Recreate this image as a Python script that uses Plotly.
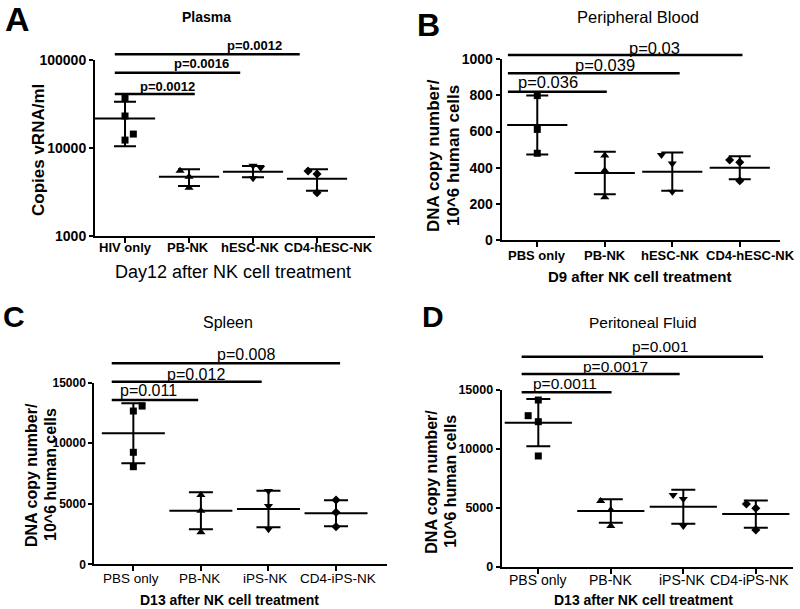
import plotly.graph_objects as go

W, H = 800, 609

# ---------------- data ----------------
# Panel A (Plasma, log scale)
a_cats = ["HIV only", "PB-NK", "hESC-NK", "CD4-hESC-NK"]
a_points = [[37000, 23100, 12300, 14400], [5520, 4720, 3540], [6300, 5970, 4530], [5480, 5070, 3100]]
a_mean = [21700, 4720, 5380, 4480]
a_upper = [33600, 5730, 6240, 5730]
a_lower = [10500, 3700, 4650, 3270]
a_pvals = ["p=0.0012", "p=0.0016", "p=0.0012"]
a_yticks = [1000, 10000, 100000]

# Panel B (Peripheral Blood)
b_cats = ["PBS only", "PB-NK", "hESC-NK", "CD4-hESC-NK"]
b_points = [[799, 612, 480], [467, 384, 236], [470, 424, 267], [443, 430, 328]]
b_mean = [636, 371, 378, 400]
b_sd = [163, 118, 106, 64]
b_pvals = ["p=0.036", "p=0.039", "p=0.03"]
b_yticks = [0, 200, 400, 600, 800, 1000]

# Panel C (Spleen)
c_cats = ["PBS only", "PB-NK", "iPS-NK", "CD4-iPS-NK"]
c_points = [[12660, 13070, 9250, 8060], [5720, 4430, 2640], [6050, 4810, 2890], [5310, 4290, 3110]]
c_mean = [10820, 4430, 4570, 4210]
c_sd = [2475, 1530, 1515, 1075]
c_pvals = ["p=0.011", "p=0.012", "p=0.008"]
c_yticks = [0, 5000, 10000, 15000]

# Panel D (Peritoneal Fluid)
d_cats = ["PBS only", "PB-NK", "iPS-NK", "CD4-iPS-NK"]
d_points = [[14150, 12820, 12310, 9400], [5580, 4810, 3450], [6090, 5750, 3450], [5320, 4960, 3120]]
d_mean = [12230, 4730, 5090, 4470]
d_sd = [2010, 1005, 1445, 1160]
d_pvals = ["p=0.0011", "p=0.0017", "p=0.001"]
d_yticks = [0, 5000, 10000, 15000]

symbols = ["square", "triangle-up", "triangle-down", "diamond"]
sym_size = [7, 8, 8, 7]

FONT = "Liberation Sans, Arial, sans-serif"


def px(x, y):
    return x / W, 1 - y / H


# ---------------- layout per panel (pixels) ----------------
panels = [
    dict(cats=a_cats, catshift=[0, -1, -3, 11], caty=248,
         pts=a_points, mean=a_mean,
         up=[u - m for u, m in zip(a_upper, a_mean)],
         dn=[m - l for m, l in zip(a_mean, a_lower)],
         pv=a_pvals, yticks=a_yticks, ylog=True,
         xdom=(95, 375), ydom=(236, 60), xr=(-0.469, 3.906), yr=(3, 5),
         jit=[[0, 0, 0, 0.13], [-0.14, 0, 0], [0, 0.12, 0], [-0.14, 0, 0]],
         bars=[(-0.16, 1.09, 94), (-0.16, 1.8, 72.7), (-0.16, 2.73, 54.3)],
         ptxt=[(0.66, 86), (1.19, 64), (2.03, 45)], pfont=dict(size=13, weight="bold"),
         tickfont=dict(size=14, weight="bold"), catfont=dict(size=13, weight="bold"),
         cap=11, meanw=43),
    dict(cats=b_cats, catshift=[0, 0, -2, 11], caty=255,
         pts=b_points, mean=b_mean, up=b_sd, dn=b_sd,
         pv=b_pvals, yticks=b_yticks, ylog=False,
         xdom=(501.7, 780), ydom=(240, 59.3), xr=(-0.527, 3.596), yr=(0, 1000),
         jit=[[0, 0, 0], [0, 0, 0], [-0.16, 0, 0], [-0.15, 0, 0]],
         bars=[(-0.435, 1.03, 91.7), (-0.435, 2.11, 73.3), (-0.435, 3.04, 55)],
         ptxt=[(0.16, 81.7), (1.0, 65), (1.74, 47.7)], pfont=dict(size=16.5),
         tickfont=dict(size=14, weight="bold"), catfont=dict(size=13, weight="bold"),
         cap=11, meanw=43),
    dict(cats=c_cats, catshift=[-2, -1, -3, 2], caty=578,
         pts=c_points, mean=c_mean, up=c_sd, dn=c_sd,
         pv=c_pvals, yticks=c_yticks, ylog=False,
         xdom=(94.3, 386.7), ydom=(564.3, 382.7), xr=(-0.578, 3.75), yr=(0, 15000),
         jit=[[0, 0.13, 0, 0], [0, 0, 0], [0, 0, 0], [0, 0, 0]],
         bars=[(-0.32, 0.96, 400), (-0.32, 1.90, 381.7), (-0.32, 3.06, 363.3)],
         ptxt=[(0.22, 390.7), (0.92, 374), (1.66, 354)], pfont=dict(size=16),
         tickfont=dict(size=12, weight="bold"), catfont=dict(size=13.5),
         cap=12, meanw=45),
    dict(cats=d_cats, catshift=[0, 0, -1, -6], caty=580,
         pts=d_points, mean=d_mean, up=d_sd, dn=d_sd,
         pv=d_pvals, yticks=d_yticks, ylog=False,
         xdom=(501.7, 793), ydom=(566.7, 390), xr=(-0.505, 3.513), yr=(0, 15000),
         jit=[[0, -0.14, 0, 0], [-0.14, 0, 0], [-0.14, 0, 0], [-0.13, 0, 0]],
         bars=[(-0.23, 1.01, 392.3), (-0.23, 1.95, 374), (-0.23, 3.10, 356.7)],
         ptxt=[(0.37, 383.3), (1.06, 366.7), (1.68, 346.7)], pfont=dict(size=15.5),
         tickfont=dict(size=12.5, weight="bold"), catfont=dict(size=14),
         cap=12, meanw=48),
]

fig = go.Figure()
shapes = []
annotations = []

for i, p in enumerate(panels):
    n = "" if i == 0 else str(i + 1)
    xa, ya = "x" + n, "y" + n
    # points
    for c, vals in enumerate(p["pts"]):
        fig.add_trace(go.Scatter(
            x=[c + j for j in p["jit"][c]], y=vals, mode="markers",
            xaxis=xa, yaxis=ya, showlegend=False,
            marker=dict(symbol=symbols[c], size=sym_size[c], color="black",
                        line=dict(width=0)),
            cliponaxis=False))
    # mean +/- SD
    fig.add_trace(go.Scatter(
        x=list(range(len(p["cats"]))), y=p["mean"], mode="markers",
        xaxis=xa, yaxis=ya, showlegend=False, cliponaxis=False,
        marker=dict(symbol="line-ew", size=p["meanw"], color="black",
                    line=dict(width=2, color="black")),
        error_y=dict(type="data", symmetric=False, array=p["up"], arrayminus=p["dn"],
                     color="black", thickness=2, width=p["cap"])))

    x0, x1 = p["xdom"]
    yb, yt = p["ydom"]
    xaxis = dict(domain=[x0 / W, x1 / W], range=list(p["xr"]), anchor=ya,
                 tickvals=list(range(len(p["cats"]))), showticklabels=False,
                 automargin=False,
                 showline=True, linewidth=2, linecolor="black", ticks="outside",
                 ticklen=5, tickwidth=2, tickcolor="black", showgrid=False,
                 zeroline=False, fixedrange=True)
    yaxis = dict(domain=[1 - yb / H, 1 - yt / H], range=list(p["yr"]), anchor=xa,
                 type="log" if p["ylog"] else "linear",
                 tickvals=p["yticks"], ticktext=[str(v) for v in p["yticks"]],
                 tickangle=0, automargin=False, ticklabeloverflow="allow",
                 showline=True, linewidth=2, linecolor="black", ticks="outside",
                 ticklen=4, tickwidth=2, tickcolor="black", showgrid=False,
                 zeroline=False, fixedrange=True,
                 tickfont=dict(family=FONT, color="black", **p["tickfont"]))
    fig.layout["xaxis" + n] = xaxis
    fig.layout["yaxis" + n] = yaxis

    # category labels under the ticks
    for c, (name, sh) in enumerate(zip(p["cats"], p["catshift"])):
        annotations.append(dict(x=c, y=1 - p["caty"] / H, xref=xa, yref="paper",
                                text=name, showarrow=False, xanchor="center",
                                yanchor="middle", xshift=sh,
                                font=dict(family=FONT, color="black", **p["catfont"])))

    # significance bars
    for (bx0, bx1, by), (tx, ty), txt in zip(p["bars"], p["ptxt"], p["pv"]):
        shapes.append(dict(type="line", xref=xa, yref="paper", x0=bx0, x1=bx1,
                           y0=1 - by / H, y1=1 - by / H,
                           line=dict(color="black", width=2.5)))
        annotations.append(dict(x=tx, y=1 - ty / H, xref=xa, yref="paper",
                                text=txt, showarrow=False, xanchor="center",
                                yanchor="middle",
                                font=dict(family=FONT, color="black", **p["pfont"])))


def label(text, x, y, size, weight="normal", angle=0):
    ax, ay = px(x, y)
    annotations.append(dict(x=ax, y=ay, xref="paper", yref="paper", text=text,
                            showarrow=False, xanchor="center", yanchor="middle",
                            textangle=angle,
                            font=dict(family=FONT, size=size, color="black",
                                      weight=weight)))


# panel letters
label("A", 17, 19, 34, "bold")
label("B", 428, 25, 32, "bold")
label("C", 14, 316, 30, "bold")
label("D", 433, 316, 30, "bold")

# titles
label("Plasma", 207, 17, 14, "bold")
label("Peripheral Blood", 638, 17, 16.5)
label("Spleen", 227.5, 322.7, 16)
label("Peritoneal Fluid", 643, 322.7, 15.5)

# axis titles
label("Copies vRNA/ml", 38, 150, 17, "bold", -90)
for (lx1, lx2, ly, fs) in [(433, 453, 156, 17), (31, 50, 475, 16), (432, 451, 481.7, 16)]:
    label("DNA copy number/", lx1, ly, fs, "bold", -90)
    label("10^6 human cells", lx2, ly, fs, "bold", -90)

label("Day12 after NK cell treatment", 233, 272, 18)
label("D9 after NK cell treatment", 639, 276, 15, "bold")
label("D13 after NK cell treatment", 229, 600, 14, "bold")
label("D13 after NK cell treatment", 643, 600, 14, "bold")

fig.update_layout(template="none", width=W, height=H,
                  margin=dict(l=0, r=0, t=0, b=0, pad=0, autoexpand=False),
                  paper_bgcolor="white", plot_bgcolor="white",
                  shapes=shapes, annotations=annotations, showlegend=False,
                  font=dict(family=FONT, color="black"))

fig.write_html("out.html", config={"displayModeBar": False},
               post_script="document.body.style.margin='0';"
                           "document.body.style.padding='0';"
                           "document.body.style.overflow='hidden';")
